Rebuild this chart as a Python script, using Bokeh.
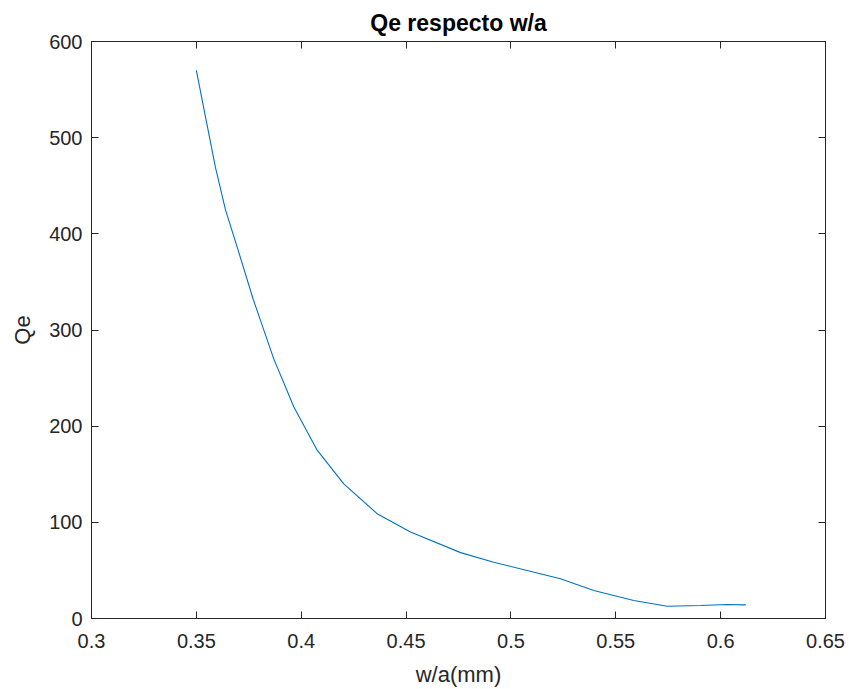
from bokeh.plotting import figure
from bokeh.models import LinearAxis, FixedTicker, Range1d
from bokeh.embed import file_html
from bokeh.resources import INLINE

# Data
w_a = [0.350, 0.3544, 0.3591, 0.3639, 0.3695, 0.3771, 0.3869, 0.3965, 0.4076,
       0.4203, 0.4362, 0.4521, 0.4760, 0.4918, 0.5077, 0.5236, 0.5395, 0.5586,
       0.5745, 0.5904, 0.6031, 0.6120]
qe = [570, 521, 469, 425, 386, 332, 270, 220, 175,
      140, 109, 90, 68.5, 58.5, 50, 41.3, 29.1, 18.7,
      12.8, 13.5, 14.6, 14.2]

x_ticks = [0.3, 0.35, 0.4, 0.45, 0.5, 0.55, 0.6, 0.65]
x_tick_labels = ["0.3", "0.35", "0.4", "0.45", "0.5", "0.55", "0.6", "0.65"]
y_ticks = [0, 100, 200, 300, 400, 500, 600]
y_tick_labels = ["0", "100", "200", "300", "400", "500", "600"]

FONT = "Liberation Sans"
AX = "#262626"

p = figure(frame_width=734, frame_height=577,
           x_range=Range1d(0.3, 0.65), y_range=Range1d(0, 600),
           output_backend="svg", toolbar_location=None,
           x_axis_label="w/a(mm)", y_axis_label="Qe",
           min_border_left=91, min_border_right=24,
           min_border_top=41, min_border_bottom=71)

p.title.text = "Qe respecto w/a"
p.title.align = "center"
p.title.text_font = FONT
p.title.text_font_size = "23px"
p.title.text_font_style = "bold"
p.title.text_color = "black"
p.title.offset = 0
p.title.standoff = 12

p.grid.visible = False
p.outline_line_color = AX
p.outline_line_width = 1
p.background_fill_color = "white"
p.border_fill_color = "white"

p.line(w_a, qe, line_color="#0072BD", line_width=1.1)

def style_axis(ax, ticks, labels, show_labels=True):
    ax.ticker = FixedTicker(ticks=ticks)
    ax.major_tick_in = 7
    ax.major_tick_out = 0
    ax.minor_tick_line_color = None
    ax.axis_line_color = AX
    ax.major_tick_line_color = AX
    if show_labels:
        ax.major_label_overrides = {t: l for t, l in zip(ticks, labels)}
        ax.major_label_text_font = FONT
        ax.major_label_text_font_size = "20px"
        ax.major_label_text_color = AX
        ax.axis_label_text_font = FONT
        ax.axis_label_text_font_size = "22px"
        ax.axis_label_text_font_style = "normal"
        ax.axis_label_text_color = AX
    else:
        ax.major_label_text_color = None
        ax.major_label_text_alpha = 0
        ax.major_label_text_font_size = "0px"
        ax.major_label_standoff = 0

style_axis(p.xaxis[0], x_ticks, x_tick_labels)
style_axis(p.yaxis[0], y_ticks, y_tick_labels)
p.xaxis[0].major_label_standoff = 15
p.xaxis[0].axis_label_standoff = 11
p.yaxis[0].major_label_standoff = 9
p.yaxis[0].axis_label_standoff = 11

top = LinearAxis()
style_axis(top, x_ticks, x_tick_labels, show_labels=False)
p.add_layout(top, "above")
right = LinearAxis()
style_axis(right, y_ticks, y_tick_labels, show_labels=False)
p.add_layout(right, "right")

open("out.html", "w").write(file_html(p, INLINE))
